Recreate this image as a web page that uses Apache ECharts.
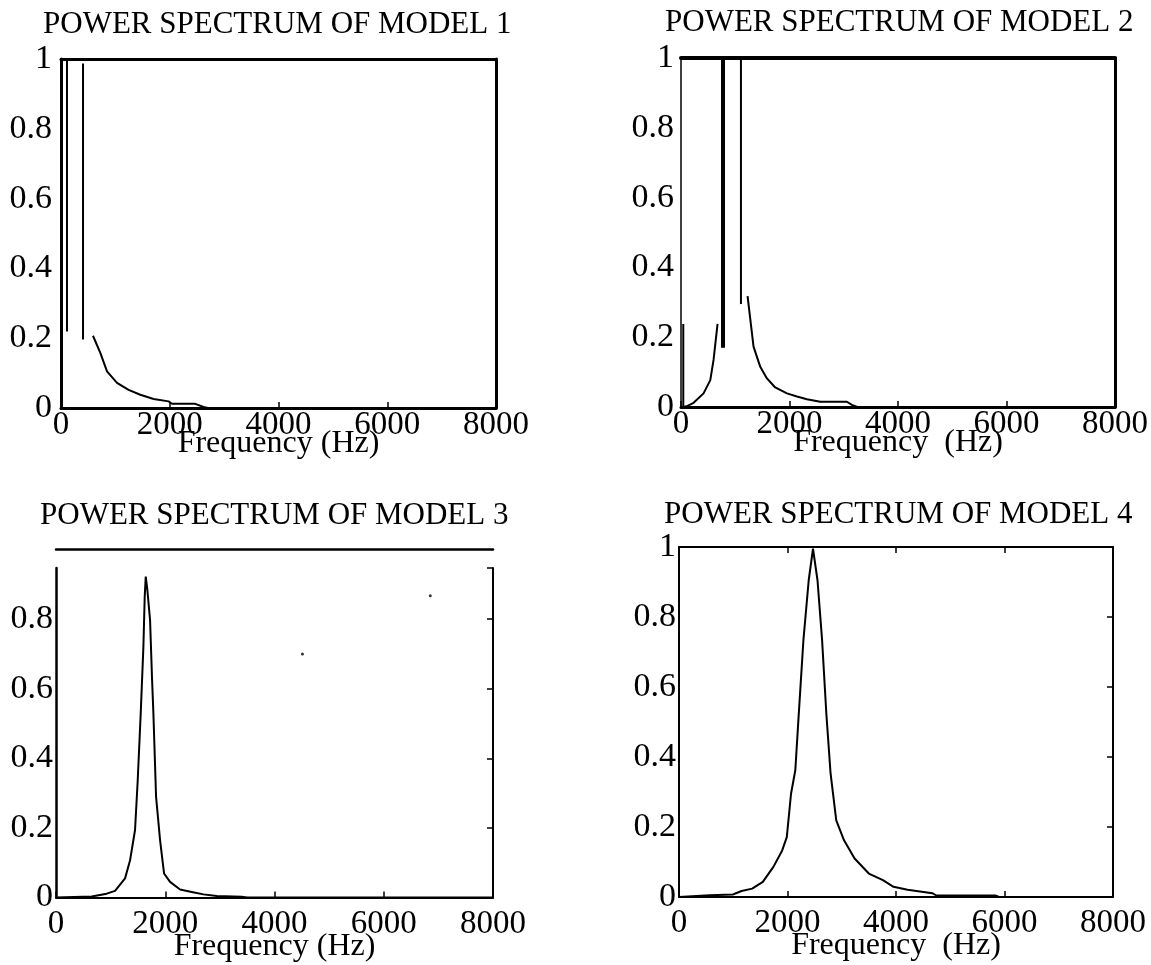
<!DOCTYPE html>
<html>
<head>
<meta charset="utf-8">
<script src="https://cdn.jsdelivr.net/npm/echarts@6/dist/echarts.min.js"></script>
<style>
html,body{margin:0;padding:0;background:#fff;}
#chart{width:1151px;height:965px;}
</style>
</head>
<body>
<div id="chart"></div>
<script>
// ---- data ----
const titles = ['POWER SPECTRUM OF MODEL 1','POWER SPECTRUM OF MODEL 2','POWER SPECTRUM OF MODEL 3','POWER SPECTRUM OF MODEL 4'];
const xNames = ['Frequency (Hz)','Frequency  (Hz)','Frequency (Hz)','Frequency  (Hz)'];
const xTickLabels = ['0','2000','4000','6000','8000'];
const yTickLabels = ['0','0.2','0.4','0.6','0.8','1'];
const yTickLabels3 = ['0','0.2','0.4','0.6','0.8',''];

// Model 1 (frequency Hz, normalized power)
const m1Spike1 = [[110,0.219],[110,1.0]];
const m1Spike2 = [[405,0.196],[405,0.987]];
const m1Curve = [[588,0.207],[723,0.158],[846,0.105],[1030,0.072],[1243,0.052],[1458,0.038],[1703,0.026],[1979,0.019],[2041,0.012],[2470,0.012],[2623,0.003],[2700,0],[8000,0]];

// Model 2
const m2Left = [[42,0.238],[42,0],[120,0.003],[232,0.012],[416,0.039],[540,0.077],[600,0.135],[674,0.238]];
const m2Spike1 = [[774,0.17],[774,0.994]];
const m2Spike2 = [[1105,0.295],[1105,1.0]];
const m2Right = [[1227,0.318],[1337,0.173],[1461,0.115],[1584,0.082],[1737,0.056],[1953,0.039],[2137,0.030],[2321,0.022],[2566,0.015],[3058,0.015],[3150,0.006],[3250,0],[8000,0]];

// Model 3
const m3Curve = [[0,0],[654,0.003],[928,0.011],[1081,0.019],[1264,0.055],[1356,0.107],[1447,0.194],[1496,0.337],[1551,0.529],[1600,0.721],[1624,0.864],[1643,0.922],[1673,0.883],[1722,0.797],[1759,0.625],[1783,0.529],[1832,0.289],[1905,0.165],[1978,0.069],[2088,0.045],[2271,0.023],[2485,0.016],[2699,0.009],[2943,0.004],[3400,0.002],[3500,0],[8000,0]];
const m3Specks = [[4512,0.700],[6852,0.867]];

// Model 4
const m4Curve = [[0,0],[568,0.005],[992,0.007],[1154,0.017],[1349,0.024],[1545,0.043],[1740,0.086],[1902,0.133],[1987,0.171],[2065,0.295],[2144,0.362],[2208,0.524],[2293,0.733],[2391,0.905],[2470,0.995],[2553,0.905],[2638,0.733],[2716,0.524],[2794,0.353],[2899,0.219],[3042,0.162],[3237,0.110],[3499,0.067],[3759,0.048],[3954,0.029],[4214,0.021],[4669,0.011],[4736,0.005],[5841,0.004],[5900,0],[8000,0]];

// ---- chart ----
const FONT = '"Liberation Serif","Times New Roman",serif';
const BLACK = '#000';
const chart = echarts.init(document.getElementById('chart'), null, {renderer:'canvas'});

function xFmt(v){ return xTickLabels[Math.round(v/2000)]; }
function yFmt(arr){ return function(v){ const i = Math.round(v/0.2); return (Math.abs(v - i*0.2) < 1e-6) ? (arr[i] ?? '') : ''; }; }

function xBottom(grid, lw, name, margin, gap){
  return {gridIndex:grid, type:'value', position:'bottom', min:0, max:8000, interval:2000,
    axisLine:{show:true, onZero:false, lineStyle:{color:BLACK, width:lw}},
    axisTick:{show:true, inside:true, length:6, lineStyle:{color:BLACK, width:1.5}},
    axisLabel:{show:true, color:BLACK, fontFamily:FONT, fontSize:33, margin:margin, formatter:xFmt},
    splitLine:{show:false},
    name:name, nameLocation:'middle', nameGap:gap, nameMoveOverlap:false,
    nameTextStyle:{color:BLACK, fontFamily:FONT, fontSize:32}};
}
function xTop(grid, lw, ticks){
  return {gridIndex:grid, type:'value', position:'top', min:0, max:8000, interval:2000,
    axisLine:{show:true, onZero:false, lineStyle:{color:BLACK, width:lw}},
    axisTick:{show:ticks, inside:true, length:6, lineStyle:{color:BLACK, width:1.5}},
    axisLabel:{show:false}, splitLine:{show:false}};
}
function yLeft(grid, lw, margin, labels, showLine){
  return {gridIndex:grid, type:'value', position:'left', min:0, max:1, interval:0.2,
    axisLine:{show:showLine, onZero:false, lineStyle:{color:BLACK, width:lw}},
    axisTick:{show:false},
    axisLabel:{show:true, color:BLACK, fontFamily:FONT, fontSize:34, margin:margin, formatter:yFmt(labels)},
    splitLine:{show:false}};
}
function yRight(grid, lw, ticks, max){
  return {gridIndex:grid, type:'value', position:'right', min:0, max:max, interval:0.2,
    axisLine:{show:true, onZero:false, lineStyle:{color:BLACK, width:lw}},
    axisTick:{show:ticks, inside:true, length:6, lineStyle:{color:BLACK, width:1.5}},
    axisLabel:{show:false}, splitLine:{show:false}};
}
function line(data, xi, yi, w){
  return {type:'line', data:data, xAxisIndex:xi, yAxisIndex:yi, showSymbol:false, symbol:'none',
    lineStyle:{color:BLACK, width:w}, silent:true, animation:false, clip:false};
}
function grid(l, t, w, h){
  return {left:l, top:t, width:w, height:h, containLabel:false, outerBoundsMode:'none'};
}

const option = {
  backgroundColor:'#fff',
  animation:false,
  title:[
    {text:titles[0], left:43, top:9, padding:0, textStyle:{color:BLACK, fontFamily:FONT, fontSize:31, fontWeight:'normal'}},
    {text:titles[1], left:665, top:7, padding:0, textStyle:{color:BLACK, fontFamily:FONT, fontSize:31, fontWeight:'normal'}},
    {text:titles[2], left:40, top:500, padding:0, textStyle:{color:BLACK, fontFamily:FONT, fontSize:31, fontWeight:'normal'}},
    {text:titles[3], left:664, top:499, padding:0, textStyle:{color:BLACK, fontFamily:FONT, fontSize:31, fontWeight:'normal'}}
  ],
  grid:[
    grid(61, 59, 435, 349),
    grid(681, 58, 434, 349),
    grid(56, 549.5, 437, 348),
    grid(679, 547, 434, 350),
    grid(56, 568, 437, 329.5)
  ],
  xAxis:[
    xBottom(0, 3, xNames[0], 1, 20),       // 0
    xTop(0, 3, false),                     // 1
    xBottom(1, 3, xNames[1], 1, 20),       // 2
    xTop(1, 4, false),                     // 3
    xBottom(2, 2, xNames[2], 10, 33),      // 4
    xTop(2, 2.5, false),                   // 5
    xBottom(3, 2, xNames[3], 10, 33),      // 6
    xTop(3, 2, true),                      // 7
    {gridIndex:4, type:'value', min:0, max:8000, show:false} // 8
  ],
  yAxis:[
    yLeft(0, 3, 9, yTickLabels, true),    // 0
    yRight(0, 3, false, 1),               // 1
    yLeft(1, 1.5, 7, yTickLabels, true),  // 2
    yRight(1, 3, false, 1),               // 3
    yLeft(2, 2, 3, yTickLabels3, false),  // 4
    {gridIndex:4, type:'value', position:'left', min:0, max:329.5/348, interval:0.2,
      axisLine:{show:true, onZero:false, lineStyle:{color:BLACK, width:2.5}},
      axisTick:{show:false}, axisLabel:{show:false}, splitLine:{show:false}}, // 5
    yRight(4, 2, true, 329.5/348),        // 6
    yLeft(3, 2, 3, yTickLabels, true),    // 7
    yRight(3, 2, true, 1)                 // 8
  ],
  series:[
    line(m1Spike1, 0, 0, 2),
    line(m1Spike2, 0, 0, 2),
    line(m1Curve, 0, 0, 2),
    line(m2Left, 2, 2, 2),
    line(m2Spike1, 2, 2, 4),
    line(m2Spike2, 2, 2, 2),
    line(m2Right, 2, 2, 2),
    line(m3Curve, 4, 4, 2),
    {type:'scatter', data:m3Specks, xAxisIndex:4, yAxisIndex:4, symbolSize:3, itemStyle:{color:BLACK}, silent:true},
    line(m4Curve, 6, 7, 2)
  ]
};
chart.setOption(option);
</script>
</body>
</html>
